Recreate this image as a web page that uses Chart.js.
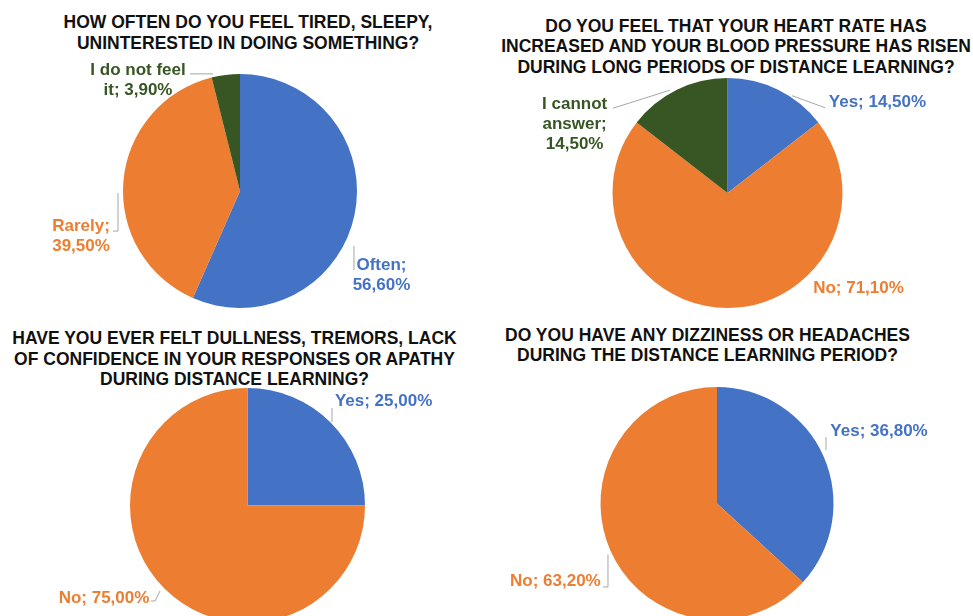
<!DOCTYPE html>
<html>
<head>
<meta charset="utf-8">
<script src="https://cdn.jsdelivr.net/npm/chart.js@4.4.0/dist/chart.umd.min.js"></script>
<style>
  html, body { margin: 0; padding: 0; background: #fff; }
  body { width: 973px; height: 616px; overflow: hidden; position: relative; }
  canvas { position: absolute; left: 0; top: 0; }
  .title {
    position: absolute; width: 520px; text-align: center; white-space: nowrap;
    font-family: "Liberation Sans", Arial, sans-serif; font-weight: bold;
    font-size: 17.5px; line-height: 20.5px; color: #111;
  }
</style>
</head>
<body>
<div class="title" id="t1"></div>
<div class="title" id="t2"></div>
<div class="title" id="t3"></div>
<div class="title" id="t4"></div>
<canvas id="c1" width="973" height="700"></canvas>
<canvas id="c2" width="973" height="700"></canvas>
<canvas id="c3" width="973" height="700"></canvas>
<canvas id="c4" width="973" height="700"></canvas>
<script>
// ---------- DATA ----------
const title1 = ['HOW OFTEN DO YOU FEEL TIRED, SLEEPY,', 'UNINTERESTED IN DOING SOMETHING?'];
const labels1 = ['Often', 'Rarely', 'I do not feel it'];
const values1 = [56.6, 39.5, 3.9];

const title2 = ['DO YOU FEEL THAT YOUR HEART RATE HAS', 'INCREASED AND YOUR BLOOD PRESSURE HAS RISEN', 'DURING LONG PERIODS OF DISTANCE LEARNING?'];
const labels2 = ['Yes', 'No', 'I cannot answer'];
const values2 = [14.5, 71.1, 14.5];

const title3 = ['HAVE YOU EVER FELT DULLNESS, TREMORS, LACK', 'OF CONFIDENCE IN YOUR RESPONSES OR APATHY', 'DURING DISTANCE LEARNING?'];
const labels3 = ['Yes', 'No'];
const values3 = [25.0, 75.0];

const title4 = ['DO YOU HAVE ANY DIZZINESS OR HEADACHES', 'DURING THE DISTANCE LEARNING PERIOD?'];
const labels4 = ['Yes', 'No'];
const values4 = [36.8, 63.2];

// ---------- STYLE / LAYOUT ----------
const BLUE = '#4472C4', ORANGE = '#ED7D31', GREEN = '#375623';
const FONT = '"Liberation Sans", Arial, sans-serif';
const LABEL_SIZE = 17;
const LABEL_LH = 20;

const charts = [
  { canvas: 'c1', titleId: 't1', title: title1, titleCx: 248, titleTop: 12.5, titleLh: 21.5,
    labels: labels1, values: values1, colors: [BLUE, ORANGE, GREEN],
    geom: { cx: 240, cy: 191, r: 117 },
    layout: [
      { dx: 27, dy: 59, wrap: 80, leader: [[-0.5, 31], [-0.5, 55]] },
      { dx: -42.4, dy: 54, wrap: 80, leader: [[-10.4, 50], [-5.4, 50], [-5.4, 12]] },
      { dx: -87.7, dy: 4, wrap: 110, leader: [[-35.7, -1], [-12.7, -1]] }
    ] },
  { canvas: 'c2', titleId: 't2', title: title2, titleCx: 736, titleTop: 16, titleLh: 20.5,
    labels: labels2, values: values2, colors: [BLUE, ORANGE, GREEN],
    geom: { cx: 727.5, cy: 193, r: 115 },
    layout: [
      { dx: 99.4, dy: 10.8, wrap: 200, leader: [[14, 6], [47, 18]] },
      { dx: 131, dy: -21, wrap: 200, leader: [] },
      { dx: -102.3, dy: 33, wrap: 80, leader: [[-64, 18.5], [-7, 0.5]] }
    ] },
  { canvas: 'c3', titleId: 't3', title: title3, titleCx: 234.5, titleTop: 328.5, titleLh: 20.5,
    labels: labels3, values: values3, colors: [BLUE, ORANGE],
    geom: { cx: 247.5, cy: 505.5, r: 117.5 },
    layout: [
      { dx: 53, dy: -22.4, wrap: 200, leader: [[1.4, -14.4], [1.4, -0.4]] },
      { dx: -60.4, dy: 8.4, wrap: 200, leader: [[-13.4, 12.4], [-9.4, 12.4], [-4.4, 2.4]] }
    ] },
  { canvas: 'c4', titleId: 't4', title: title4, titleCx: 707.5, titleTop: 325, titleLh: 20.5,
    labels: labels4, values: values4, colors: [BLUE, ORANGE],
    geom: { cx: 717, cy: 503.5, r: 116.5 },
    layout: [
      { dx: 55.4, dy: -27, wrap: 200, leader: [[2.4, -19.5], [2.4, -6.5]] },
      { dx: -55, dy: 29.5, wrap: 200, leader: [[-7.4, 36.5], [-2.4, 36.5], [-2.4, 4]] }
    ] }
];

function fmt(v) { return v.toFixed(2).replace('.', ',') + '%'; }

function wrapText(ctx, text, maxW) {
  const words = text.split(' ');
  const lines = [];
  let cur = '';
  for (const w of words) {
    const test = cur ? cur + ' ' + w : w;
    if (cur && ctx.measureText(test).width > maxW) { lines.push(cur); cur = w; }
    else cur = test;
  }
  if (cur) lines.push(cur);
  return lines;
}

const labelPlugin = {
  id: 'pieLabels',
  afterDatasetsDraw(chart, args, opts) {
    const ctx = chart.ctx;
    const meta = chart.getDatasetMeta(0);
    const ds = chart.data.datasets[0];
    ctx.save();
    ctx.font = 'bold ' + LABEL_SIZE + 'px ' + FONT;
    meta.data.forEach((arc, i) => {
      const p = arc.getProps(['x', 'y', 'startAngle', 'endAngle', 'outerRadius'], true);
      const mid = (p.startAngle + p.endAngle) / 2;
      const ex = p.x + Math.cos(mid) * p.outerRadius;
      const ey = p.y + Math.sin(mid) * p.outerRadius;
      const L = opts.layout[i];
      // leader line
      if (L.leader && L.leader.length > 1) {
        ctx.beginPath();
        ctx.strokeStyle = '#A6A6A6';
        ctx.lineWidth = 1;
        L.leader.forEach((pt, k) => {
          const x = ex + pt[0], y = ey + pt[1];
          if (k === 0) ctx.moveTo(x, y); else ctx.lineTo(x, y);
        });
        ctx.stroke();
      }
      // text
      const text = chart.data.labels[i] + '; ' + fmt(ds.data[i]);
      const lines = wrapText(ctx, text, L.wrap);
      ctx.fillStyle = ds.backgroundColor[i];
      ctx.textAlign = 'center';
      ctx.textBaseline = 'alphabetic';
      const cx = ex + L.dx, cy = ey + L.dy;
      lines.forEach((ln, k) => {
        const capCenter = cy + (k - (lines.length - 1) / 2) * LABEL_LH;
        ctx.fillText(ln, cx, capCenter + 0.716 * LABEL_SIZE / 2);
      });
    });
    ctx.restore();
  }
};

charts.forEach(c => {
  const t = document.getElementById(c.titleId);
  t.innerHTML = c.title.map(s => s.replace(/&/g, '&amp;')).join('<br>');
  t.style.left = (c.titleCx - 260) + 'px';
  t.style.lineHeight = c.titleLh + 'px';
  const lead = (c.titleLh - 1.117 * 17.5) / 2;
  const capC = lead + 0.905 * 17.5 - 0.716 * 17.5 / 2;
  t.style.top = (c.titleTop + 10 - capC) + 'px';

  const cv = document.getElementById(c.canvas);
  const W = cv.width, H = cv.height, g = c.geom;
  new Chart(cv, {
    type: 'pie',
    data: {
      labels: c.labels,
      datasets: [{ data: c.values, backgroundColor: c.colors, borderWidth: 0, hoverOffset: 0 }]
    },
    options: {
      responsive: false,
      animation: false,
      devicePixelRatio: 1,
      events: [],
      layout: { padding: { left: g.cx - g.r, top: g.cy - g.r, right: W - (g.cx + g.r), bottom: H - (g.cy + g.r) } },
      plugins: {
        legend: { display: false },
        title: { display: false },
        tooltip: { enabled: false },
        pieLabels: { layout: c.layout }
      }
    },
    plugins: [labelPlugin]
  });
});
</script>
</body>
</html>
